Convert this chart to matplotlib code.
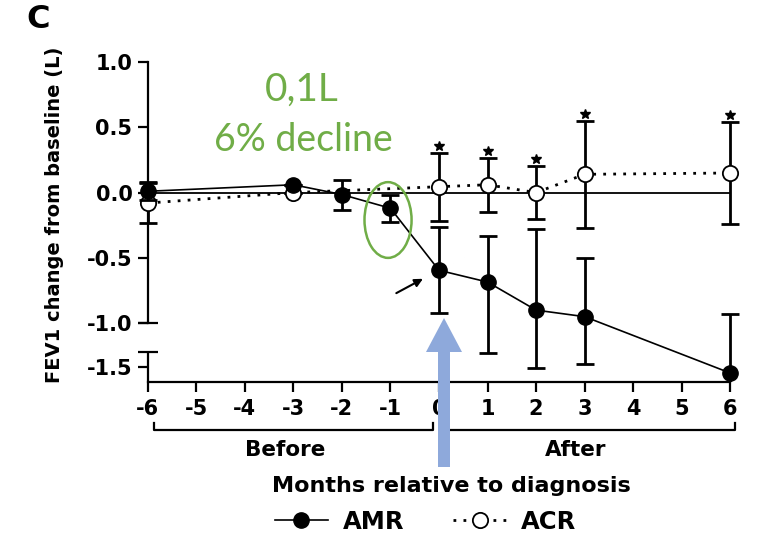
import numpy as np
import matplotlib
matplotlib.use("Agg")
import matplotlib.pyplot as plt
from matplotlib import transforms
from matplotlib.patches import Ellipse, FancyArrow

plt.rcParams['font.family'] = ['DejaVu Sans']
plt.rcParams['font.weight'] = 'bold'

# data
amr_x = [-6, -3, -2, -1, 0, 1, 2, 3, 6]
amr_y = [0.01, 0.06, -0.015, -0.12, -0.595, -0.685, -0.90, -0.95, -1.70]
amr_err = [0.07, 0.0, 0.115, 0.105, 0.33, 0.355, 0.62, 0.45, 0.77]

acr_x = [-6, -3, 0, 1, 2, 3, 6]
acr_y = [-0.08, 0.0, 0.045, 0.06, 0.0, 0.14, 0.15]
acr_err = [0.15, 0.0, 0.26, 0.205, 0.205, 0.41, 0.39]
acr_star = [False, False, True, True, True, True, True]

month_ticks = list(range(-6, 7))
y_ticks = [-1.5, -1.0, -0.5, 0.0, 0.5, 1.0]
y_ticklabels = ['-1.5', '-1.0', '-0.5', '0.0', '0.5', '1.0']

# broken y axis: upper segment -1..1, lower segment -2..-1 squeezed
GAP = 29 / 131.0
LOW = 30 / 131.0


def fwd(y):
    y = np.asarray(y, dtype=float)
    return np.where(y >= -1, y, -1 - GAP + (y + 1) * LOW)


def inv(f):
    f = np.asarray(f, dtype=float)
    out = np.where(f >= -1, f, -1 + (f + 1 + GAP) / LOW)
    out = np.where((f < -1) & (f > -1 - GAP), -1.0, out)
    return out


fig = plt.figure(figsize=(7.59, 5.35), dpi=100)
ax = fig.add_axes([133.2 / 759, 153 / 535, 611.6 / 759, 320 / 535])
ax.set_yscale('function', functions=(fwd, inv))
ax.set_xlim(-6.3, 6.3)
ax.set_ylim(-2.0, 1.0)

# reference line
ax.plot([-6, 6], [0, 0], color='black', lw=1.3, zorder=2)

# error bars
ax.errorbar(acr_x, acr_y, yerr=acr_err, fmt='none', ecolor='black',
            elinewidth=2, capsize=6.5, capthick=2, zorder=3)
ax.errorbar(amr_x, amr_y, yerr=amr_err, fmt='none', ecolor='black',
            elinewidth=2, capsize=6.5, capthick=2, zorder=4)

# series
acr_line, = ax.plot(acr_x, acr_y, linestyle=(0, (1, 2.6)), lw=2, color='black',
                    marker='o', markersize=11, markerfacecolor='white',
                    markeredgecolor='black', markeredgewidth=1.3, zorder=3.5,
                    label='ACR')
amr_line, = ax.plot(amr_x, amr_y, linestyle='-', lw=1.2, color='black',
                    marker='o', markersize=11, markerfacecolor='black', zorder=4.5,
                    label='AMR')

# significance stars above ACR upper caps
star_tr = transforms.offset_copy(ax.transData, fig=fig, x=0, y=7, units='dots')
for x, y, e, s in zip(acr_x, acr_y, acr_err, acr_star):
    if s:
        ax.plot(x, y + e, marker='*', color='black', markersize=7.5,
                transform=star_tr, clip_on=False, zorder=5)

# axes styling
for side in ['top', 'right']:
    ax.spines[side].set_visible(False)
ax.spines['left'].set_position(('data', -6))
ax.spines['left'].set_bounds(-1.0, 1.0)
ax.spines['bottom'].set_bounds(-6, 6)
ax.spines['left'].set_linewidth(1.6)
ax.spines['bottom'].set_linewidth(1.6)
ax.plot([-6, -6], [-2.0, -1.00001], color='black', lw=1.6, clip_on=False,
        solid_capstyle='butt')
ax.plot([-6, -6], [-1.0, -1.00001], linestyle='none', marker='_',
        markersize=14.5, mew=1.6, color='black', clip_on=False)

ax.set_xticks(month_ticks)
ax.set_xticklabels([str(m) for m in month_ticks])
ax.set_yticks(y_ticks)
ax.set_yticklabels(y_ticklabels)
ax.minorticks_off()
ax.tick_params(axis='both', width=1.6, length=7, labelsize=15)
ax.tick_params(axis='x', pad=5)
ax.tick_params(axis='y', pad=4)

# before / after brackets
br = transforms.blended_transform_factory(ax.transData, fig.transFigure)
yb, yt = 1 - 430 / 535, 1 - 423 / 535
for x0, x1, lab, xl in [(-5.88, -0.12, 'Before', -3.16), (0.12, 6.1, 'After', 2.82)]:
    ax.plot([x0, x0, x1, x1], [yt, yb, yb, yt], color='black', lw=1.6,
            transform=br, clip_on=False)
    ax.text(xl, 1 - 450 / 535, lab, transform=br, ha='center', va='center',
            fontsize=15.5, fontweight='bold')

fig.text(451.5 / 759, 1 - 486 / 535, 'Months relative to diagnosis', ha='center',
         va='center', fontsize=16, fontweight='bold')
fig.text(55 / 759, 1 - 215 / 535, 'FEV1 change from baseline (L)', rotation=90,
         ha='center', va='center', fontsize=14, fontweight='bold')
fig.text(38 / 759, 1 - 19 / 535, 'C', ha='center', va='center', fontsize=23,
         fontweight='bold')

# legend
fig.legend([amr_line, acr_line], ['AMR', 'ACR'], loc='center',
           bbox_to_anchor=(425.5 / 759, 13 / 535), ncol=2, frameon=False,
           fontsize=17.5, handlelength=2.2, handletextpad=0.6, columnspacing=2.0,
           borderaxespad=0, borderpad=0)

# green annotation
green = '#70AD47'
fig.text(302 / 759, 1 - 101 / 535, '0,1L', color=green, family='Lato', fontweight='normal',
         fontsize=28, ha='center', va='baseline')
fig.text(303 / 759, 1 - 151 / 535, '6% decline', color=green, family='Lato',
         fontweight='normal', fontsize=27, ha='center', va='baseline')
ax.add_patch(Ellipse((-1.05, -0.21), 0.97, 0.58, fill=False, edgecolor=green, lw=1.8,
                     zorder=6))

# small black arrow pointing at month 0
ax.annotate('', xy=(-0.28, -0.65), xytext=(-0.93, -0.78),
            arrowprops=dict(arrowstyle='-|>', color='black', lw=1.5, mutation_scale=12))

# big blue arrow at diagnosis
fig.add_artist(FancyArrow(444 / 759, (535 - 467) / 535, 0, (467 - 318) / 535,
                          width=12 / 759, head_width=36 / 759, head_length=34 / 535,
                          length_includes_head=True, color='#8EA9DB', lw=0,
                          transform=fig.transFigure, zorder=10))

fig.savefig('out.png', dpi=100)
